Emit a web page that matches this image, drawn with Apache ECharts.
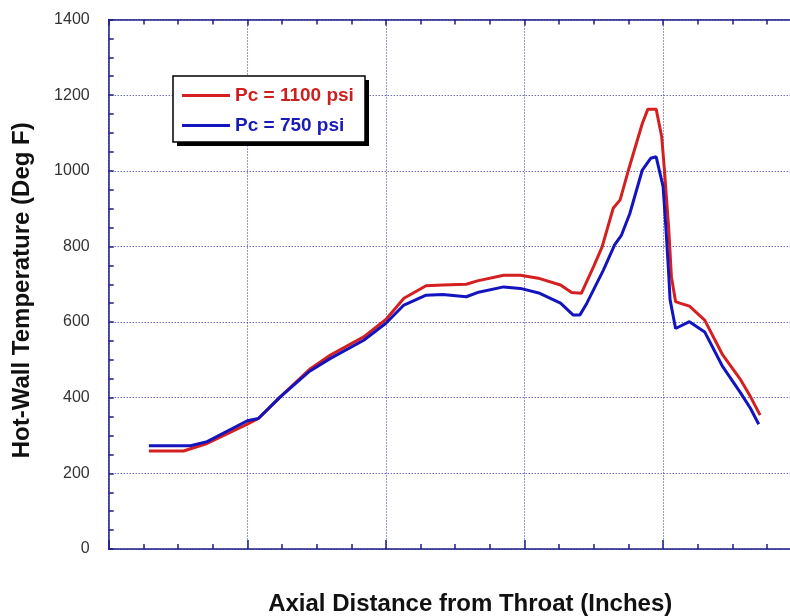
<!DOCTYPE html>
<html>
<head>
<meta charset="utf-8">
<script src="https://cdn.jsdelivr.net/npm/echarts@6/dist/echarts.min.js"></script>
<style>
  html, body { margin: 0; padding: 0; background: #fff; overflow: hidden; }
  #chart { width: 790px; height: 616px; }
</style>
</head>
<body>
<div id="chart"></div>
<script>
// axial position (grid units, one major division = 1) and wall temperature
var distRed = [0.29, 0.54, 0.71, 1.0, 1.08, 1.24, 1.45, 1.6, 1.84, 2.0, 2.13, 2.29, 2.41, 2.58, 2.66, 2.85, 2.97, 3.11, 3.26, 3.34, 3.41, 3.5, 3.56, 3.64, 3.69, 3.75, 3.85, 3.89, 3.95, 3.99, 4.01, 4.04, 4.06, 4.09, 4.12, 4.19, 4.3, 4.43, 4.56, 4.63, 4.7];
var tempRed = [259, 259, 279, 330, 345, 403, 475, 513, 561, 607, 663, 696, 698, 700, 709, 724, 724, 715, 698, 678, 676, 748, 799, 901, 923, 1002, 1125, 1163, 1163, 1090, 1000, 850, 720, 654, 650, 642, 605, 513, 447, 403, 354];

var distBlue = [0.29, 0.59, 0.71, 1.0, 1.08, 1.24, 1.45, 1.6, 1.84, 2.0, 2.13, 2.29, 2.41, 2.58, 2.66, 2.85, 2.97, 3.11, 3.26, 3.35, 3.4, 3.45, 3.57, 3.65, 3.7, 3.76, 3.85, 3.91, 3.95, 4.0, 4.02, 4.04, 4.05, 4.09, 4.19, 4.3, 4.43, 4.56, 4.63, 4.69];
var tempBlue = [273, 273, 284, 339, 345, 403, 470, 504, 552, 597, 645, 671, 673, 667, 678, 693, 689, 676, 650, 619, 619, 650, 738, 804, 830, 887, 1002, 1033, 1037, 958, 850, 730, 660, 583, 601, 574, 482, 412, 372, 330];

var yTicks = [0, 200, 400, 600, 800, 1000, 1200, 1400];

function pairs(xs, ys) {
  return xs.map(function (x, i) { return [x, ys[i]]; });
}

var chart = echarts.init(document.getElementById("chart"));

var axisBlue = "#1c1c86";
var gridDot = "#2e2e9c";
var redLine = "#d42020";
var blueLine = "#1414be";

var option = {
  animation: false,
  textStyle: { fontFamily: "Liberation Sans, Arial, sans-serif" },
  grid: { left: 108.7, right: -11.7, top: 19.5, bottom: 67, outerBoundsMode: "none" },
  // legend box with a hard drop shadow
  graphic: [
    { type: "rect", z: 90, shape: { x: 177, y: 80, width: 192, height: 66 }, style: { fill: "#000" } },
    { type: "rect", z: 91, shape: { x: 173, y: 76, width: 192, height: 66 }, style: { fill: "#fff", stroke: "#000", lineWidth: 1.5 } }
  ],
  legend: {
    orient: "vertical",
    left: 173,
    top: 80,
    z: 95,
    padding: [6, 10, 6, 9],
    icon: "rect",
    itemWidth: 48,
    itemHeight: 3,
    itemGap: 11,
    textStyle: { fontSize: 19, fontWeight: "bold" },
    data: [
      { name: "Pc = 1100 psi", textStyle: { color: "#cc1f1f" } },
      { name: "Pc = 750 psi", textStyle: { color: "#1a1ab4" } }
    ]
  },
  xAxis: [
    {
      type: "value",
      position: "bottom",
      min: 0,
      max: 5,
      interval: 1,
      name: "Axial Distance from Throat (Inches)",
      nameLocation: "middle",
      nameGap: 43,
      nameTextStyle: { fontSize: 24, fontWeight: "bold", color: "#111", padding: [0, 0, 0, 30] },
      axisLine: { show: true, lineStyle: { color: axisBlue, width: 1.5 } },
      axisTick: { show: true, inside: true, length: 9, lineStyle: { color: axisBlue, width: 1.5 } },
      minorTick: { show: true, splitNumber: 4, length: 5, lineStyle: { color: axisBlue, width: 1.5 } },
      axisLabel: { show: false },
      splitLine: { show: true, lineStyle: { color: gridDot, type: [1, 2], width: 1 } }
    },
    {
      type: "value",
      position: "top",
      min: 0,
      max: 5,
      interval: 1,
      axisLine: { show: true, lineStyle: { color: axisBlue, width: 1.5 } },
      axisTick: { show: true, inside: true, length: 6, lineStyle: { color: axisBlue, width: 1.5 } },
      minorTick: { show: true, splitNumber: 4, length: 5, lineStyle: { color: axisBlue, width: 1.5 } },
      axisLabel: { show: false },
      splitLine: { show: false }
    }
  ],
  yAxis: {
    type: "value",
    min: yTicks[0],
    max: yTicks[yTicks.length - 1],
    interval: 200,
    name: "Hot-Wall Temperature (Deg F)",
    nameLocation: "middle",
    nameGap: 74,
    nameTextStyle: { fontSize: 24, fontWeight: "bold", color: "#111", padding: [0, 12, 0, 0] },
    axisLine: { show: true, lineStyle: { color: axisBlue, width: 1.5 } },
    axisTick: { show: true, inside: true, length: 5, lineStyle: { color: axisBlue, width: 1.5 } },
    minorTick: { show: true, splitNumber: 4, length: 5, lineStyle: { color: axisBlue, width: 1.5 } },
    axisLabel: { fontSize: 16, color: "#333", margin: 19, formatter: function (v) { return String(v); } },
    splitLine: { show: true, lineStyle: { color: gridDot, type: [1, 2], width: 1 } }
  },
  series: [
    {
      name: "Pc = 1100 psi",
      type: "line",
      symbol: "none",
      color: redLine,
      lineStyle: { width: 3, color: redLine },
      data: pairs(distRed, tempRed)
    },
    {
      name: "Pc = 750 psi",
      type: "line",
      symbol: "none",
      color: blueLine,
      lineStyle: { width: 3, color: blueLine },
      data: pairs(distBlue, tempBlue)
    }
  ]
};

chart.setOption(option);
</script>
</body>
</html>
